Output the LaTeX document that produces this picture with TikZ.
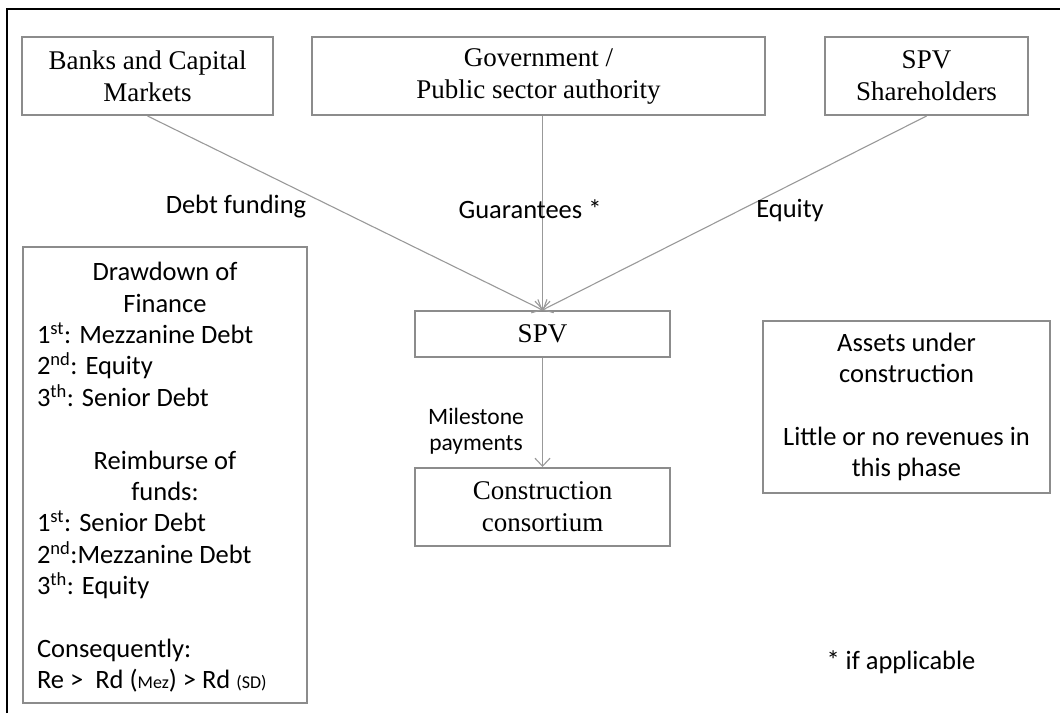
\documentclass[tikz,border=0pt]{standalone}
\usepackage{fontspec}
\setmainfont{Liberation Serif}
\newfontfamily\calib{Carlito}
\usetikzlibrary{arrows.meta}
\definecolor{boxgray}{gray}{0.55}
\definecolor{linegray}{gray}{0.6}
\newcommand{\smalltxt}[1]{{\fontsize{18}{20}\selectfont #1}}
\begin{document}
\begin{tikzpicture}[x=1pt,y=-1pt,
  box/.style={draw=boxgray, line width=2pt, inner sep=0pt, align=center,
              font=\fontsize{27}{32}\selectfont},
  textbox/.style={box, font=\calib\fontsize{26.5}{31.4}\selectfont},
  lbl/.style={font=\calib\fontsize{26.5}{31.4}\selectfont, inner sep=0pt, align=center},
  flow/.style={draw=linegray, line width=1.1pt, -{Straight Barb[length=8pt,width=15pt]}}]
\useasboundingbox (0,0) rectangle (1060,713);

% page frame (top and left edges)
\draw[line width=2pt] (7,713) -- (7,9) -- (1060,9);

% parties
\node[box, minimum width=251, minimum height=78] (banks) at (147.5,76) {Banks and Capital\\Markets};
\node[box, minimum width=453, minimum height=78] (gov) at (538.5,76) {Government /\\Public sector authority};
\node[box, minimum width=203, minimum height=78] (shh) at (926.5,76) {SPV\\Shareholders};

% vehicle and contractor
\node[box, minimum width=255, minimum height=46] (spv) at (542.5,334) {SPV};
\node[box, minimum width=255, minimum height=78] (cons) at (542.5,507) {Construction\\consortium};

% side notes
\node[textbox, minimum width=287, minimum height=172] (assets) at (906.5,407)
  {Assets under\\construction\\[31.4pt]Little or no revenues in\\this phase};

\node[box, minimum width=284, minimum height=456] (order) at (165,475) {};
\node[lbl, text width=256, anchor=center] (ordertext) at (165,477.5)
  {\raggedright\spaceskip=0pt\xspaceskip=0pt
   {\centering Drawdown of\\Finance\par}
   1\textsuperscript{st}: Mezzanine Debt\\
   2\textsuperscript{nd}: Equity\\
   3\textsuperscript{th}: Senior Debt\par
   \mbox{}\par
   {\centering Reimburse of\\funds:\par}
   1\textsuperscript{st}: Senior Debt\\
   2\textsuperscript{nd}:Mezzanine Debt\\
   3\textsuperscript{th}: Equity\par
   \mbox{}\par
   Consequently:\\
   Re >\ \ Rd (\smalltxt{Mez}) > Rd \smalltxt{(SD)}\par};

% flows
\draw[flow] (banks.south) -- (spv.north);
\draw[flow] (gov.south -| spv.north) -- (spv.north);
\draw[flow] (shh.south) -- (spv.north);
\draw[flow] (spv.south) -- (cons.north);

% flow labels
\node[lbl] (ldebt) at (236,207) {Debt funding};
\node[lbl] (lguar) at (530,209) {Guarantees *};
\node[lbl] (lequity) at (790,211) {Equity};
\node[lbl, font=\calib\fontsize{23.5}{26.5}\selectfont] (lmile) at (476,431) {Milestone\\payments};

\node[lbl] (note) at (901,662) {* if applicable};
\end{tikzpicture}
\end{document}
